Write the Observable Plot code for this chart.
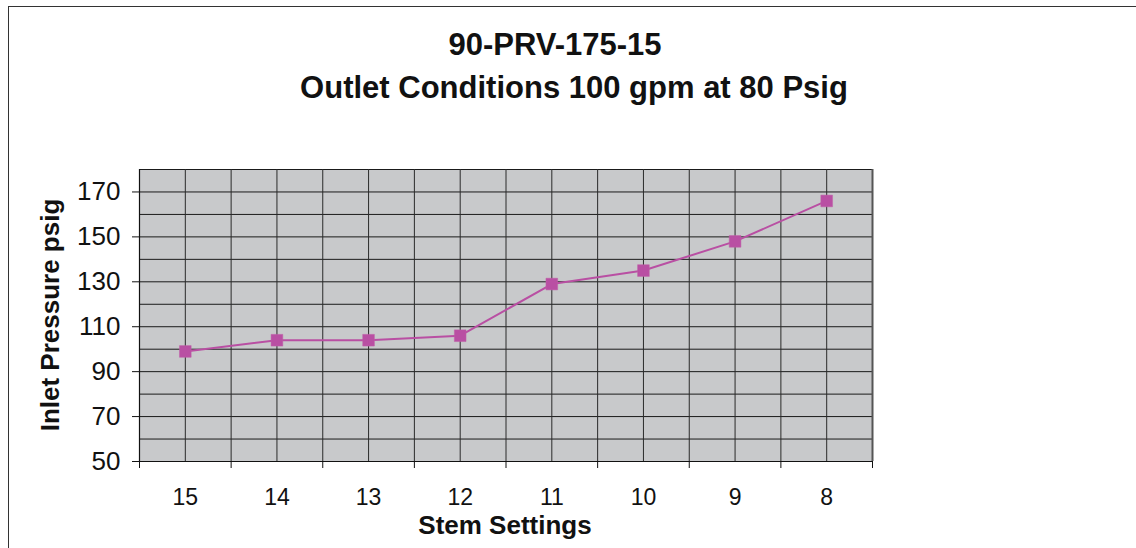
<!DOCTYPE html>
<html>
<head>
<meta charset="utf-8">
<script src="https://cdn.jsdelivr.net/npm/d3@7"></script>
<script src="https://cdn.jsdelivr.net/npm/@observablehq/plot@0.6"></script>
<style>
  html, body { margin: 0; padding: 0; background: #fff; overflow: hidden; }
  #wrap { position: relative; width: 1136px; height: 548px; font-family: "Liberation Sans", Arial, sans-serif; }
  #border { position: absolute; left: 8px; top: 6px; width: 1200px; height: 700px; border: 1.5px solid #333; box-sizing: border-box; }
  .t { position: absolute; font-weight: bold; color: #111; white-space: nowrap; transform: translate(-50%, -50%); }
  #chart { position: absolute; left: 0; top: 0; }
</style>
</head>
<body>
<div id="wrap">
  <div id="border"></div>
  <div id="chart"></div>
  <div class="t" id="title" style="left:555px; top:45px; font-size:31px;"></div>
  <div class="t" id="subtitle" style="left:574px; top:88px; font-size:31px;"></div>
  <div class="t" id="xlabel" style="left:505px; top:525px; font-size:26px;"></div>
  <div class="t" id="ylabel" style="left:50px; top:315px; font-size:26px; transform: translate(-50%, -50%) rotate(-90deg);"></div>
</div>
<script>
const titleText = "90-PRV-175-15";
const subtitleText = "Outlet Conditions 100 gpm at 80 Psig";
const xLabel = "Stem Settings";
const yLabel = "Inlet Pressure psig";

const stemSettings = ["15", "14", "13", "12", "11", "10", "9", "8"];
const inletPressure = [99, 104, 104, 106, 129, 135, 148, 166];
const yTickValues = [50, 70, 90, 110, 130, 150, 170];

document.getElementById("title").textContent = titleText;
document.getElementById("subtitle").textContent = subtitleText;
document.getElementById("xlabel").textContent = xLabel;
document.getElementById("ylabel").textContent = yLabel;

const data = stemSettings.map((s, i) => ({i, s, v: inletPressure[i]}));
const idx = stemSettings.map((_, i) => i);
const edges = d3.range(-0.5, stemSettings.length, 1);
const vGrid = d3.range(-0.5, stemSettings.length - 0.49, 0.5);
const hGrid = d3.range(50, 181, 10);

const chart = Plot.plot({
  width: 1136,
  height: 548,
  marginLeft: 139,
  marginRight: 264,
  marginTop: 169,
  marginBottom: 87,
  style: { fontFamily: "Liberation Sans, Arial, sans-serif", background: "transparent", color: "#111" },
  x: { domain: [-0.5, stemSettings.length - 0.5] },
  y: { domain: [50, 180] },
  marks: [
    Plot.frame({ fill: "#c8c9cb", stroke: null }),
    Plot.ruleY(hGrid, { stroke: "#1a1a1a", strokeWidth: 1 }),
    Plot.ruleX(vGrid, { stroke: "#2a2a2a", strokeWidth: 1 }),
    Plot.ruleX([stemSettings.length - 0.5], { stroke: "#555", strokeWidth: 2 }),
    Plot.ruleX([-0.5], { stroke: "#111", strokeWidth: 1.2 }),
    Plot.ruleY([50], { stroke: "#111", strokeWidth: 1.2 }),
    Plot.axisY({ ticks: yTickValues, tickSize: 7, tickPadding: 12, fontSize: 26, label: null, tickFormat: d => String(d) }),
    Plot.axisX({ ticks: edges, tickSize: 7, tickFormat: () => "", label: null }),
    Plot.axisX({ ticks: idx, tickSize: 0, tickPadding: 27, fontSize: 23, label: null, tickFormat: i => stemSettings[i] }),
    Plot.line(data, { x: "i", y: "v", stroke: "#b94fa3", strokeWidth: 2 }),
    Plot.dot(data, { x: "i", y: "v", symbol: "square", r: 6.6, fill: "#b94fa3", stroke: "#c060a8", strokeWidth: 0.5 })
  ]
});
document.getElementById("chart").appendChild(chart);
</script>
</body>
</html>
